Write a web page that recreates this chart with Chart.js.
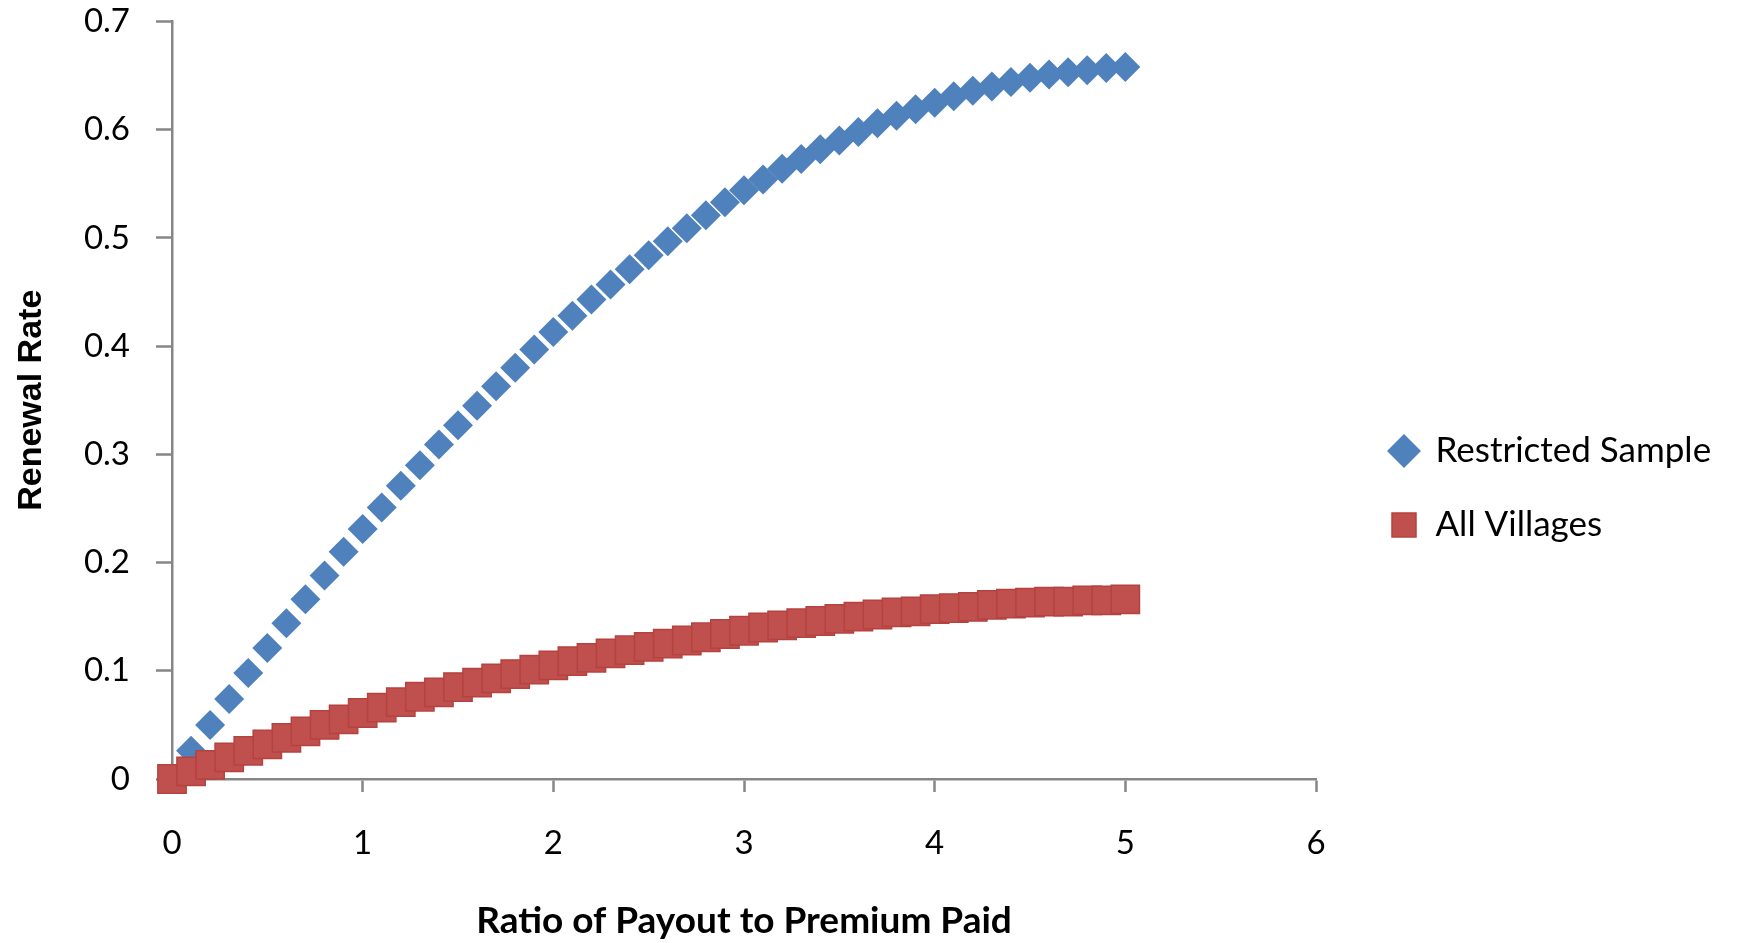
<!DOCTYPE html>
<html><head><meta charset="utf-8">
<script src="https://cdn.jsdelivr.net/npm/chart.js@4"></script>
<style>html,body{margin:0;padding:0;background:#fff}#wrap{width:1739px;height:943px;position:relative}</style>
</head><body><div id="wrap"><canvas id="c"></canvas></div>
<script>
const ratioX = [0,0.1,0.2,0.3,0.4,0.5,0.6,0.7,0.8,0.9,1.0,1.1,1.2,1.3,1.4,1.5,1.6,1.7,1.8,1.9,2.0,2.1,2.2,2.3,2.4,2.5,2.6,2.7,2.8,2.9,3.0,3.1,3.2,3.3,3.4,3.5,3.6,3.7,3.8,3.9,4.0,4.1,4.2,4.3,4.4,4.5,4.6,4.7,4.8,4.9,5.0];
const restrictedSample = [0,0.026,0.050,0.074,0.098,0.121,0.144,0.166,0.188,0.210,0.231,0.251,0.271,0.290,0.309,0.327,0.345,0.363,0.380,0.397,0.413,0.428,0.443,0.457,0.471,0.484,0.497,0.509,0.521,0.533,0.544,0.554,0.564,0.573,0.582,0.590,0.598,0.606,0.613,0.619,0.625,0.631,0.636,0.640,0.644,0.648,0.651,0.653,0.655,0.657,0.658];
const allVillages = [0,0.007,0.013,0.020,0.026,0.032,0.038,0.044,0.050,0.055,0.061,0.066,0.071,0.076,0.080,0.085,0.089,0.093,0.097,0.101,0.105,0.109,0.112,0.116,0.119,0.122,0.125,0.128,0.131,0.134,0.137,0.140,0.142,0.144,0.146,0.148,0.150,0.152,0.154,0.155,0.157,0.158,0.159,0.161,0.162,0.163,0.164,0.164,0.165,0.165,0.166];
const seriesNames = ['Restricted Sample','All Villages'];
const xTickLabels = ['0','1','2','3','4','5','6'];
const yTickLabels = ['0','0.1','0.2','0.3','0.4','0.5','0.6','0.7'];
const xTitle = 'Ratio of Payout to Premium Paid';
const yTitle = 'Renewal Rate';

const W = 1739, H = 943;
const AREA = {left:172, right:1316, top:21, bottom:779};
const axisGrey = '#868686';
const LEG_FONT = 35, LEG_PAD = 74 - LEG_FONT;

const toPts = (ys) => ys.map((y,i) => ({x: ratioX[i], y: y}));

const layoutFix = {
  id: 'layoutFix',
  beforeLayout(chart) {
    const lg = chart.legend;
    if (lg && !lg._patched) {
      const f = lg.fit;
      lg.fit = function () { f.call(this); this.width = W - AREA.right; };
      lg._patched = true;
    }
  },
  afterLayout(chart) {
    const lg = chart.legend;
    if (lg) {
      lg.left = 1390 - LEG_PAD; lg.right = W;
      lg.top = 451 - LEG_FONT / 2 - LEG_PAD; lg.bottom = H;
    }
  }
};

const noPad = (s) => { s.paddingTop = 0; s.paddingBottom = 0; s.paddingLeft = 0; s.paddingRight = 0; };

new Chart(document.getElementById('c'), {
  type: 'scatter',
  data: {
    datasets: [
      { label: seriesNames[0], data: toPts(restrictedSample), pointStyle: 'rectRot', pointRadius: 15,
        backgroundColor: '#4F81BD', borderColor: '#4F81BD', borderWidth: 0, showLine: false, clip: false, order: 1 },
      { label: seriesNames[1], data: toPts(allVillages), pointStyle: 'rect', pointRadius: 20,
        backgroundColor: '#C0504D', borderColor: '#B5423F', borderWidth: 1.5, showLine: false, clip: false, order: 0 }
    ]
  },
  options: {
    responsive: true, maintainAspectRatio: false, animation: false, devicePixelRatio: 1,
    events: [],
    layout: { padding: { top: AREA.top, left: 0, right: 0, bottom: 0 } },
    plugins: {
      tooltip: { enabled: false },
      legend: {
        position: 'right', align: 'start',
        labels: {
          usePointStyle: true, boxWidth: 28, boxHeight: 24, padding: LEG_PAD,
          color: '#000', font: { family: 'Lato', size: LEG_FONT },
          sort: (a, b) => a.datasetIndex - b.datasetIndex
        }
      }
    },
    scales: {
      x: {
        type: 'linear', min: 0, max: 6,
        afterFit: (s) => { s.height = H - AREA.bottom; noPad(s); },
        ticks: { stepSize: 1, padding: 32, color: '#000', font: { family: 'Lato', size: 33 },
                 callback: (v, i) => xTickLabels[i] },
        grid: { drawOnChartArea: false, drawTicks: true, tickLength: 13, tickWidth: 2.5, tickColor: axisGrey, color: axisGrey },
        border: { display: true, color: axisGrey, width: 2.5 },
        title: { display: true, text: xTitle, color: '#000', font: { family: 'Lato', size: 37, weight: 'bold' }, padding: { top: 0, bottom: 0 } }
      },
      y: {
        type: 'linear', min: 0, max: 0.7,
        afterFit: (s) => { s.width = AREA.left; noPad(s); },
        ticks: { stepSize: 0.1, padding: 26, color: '#000', font: { family: 'Lato', size: 33 },
                 callback: (v, i) => yTickLabels[i] },
        grid: { drawOnChartArea: false, drawTicks: true, tickLength: 16, tickWidth: 2.5, tickColor: axisGrey, color: axisGrey },
        border: { display: true, color: axisGrey, width: 2.5 },
        title: { display: true, text: yTitle, color: '#000', font: { family: 'Liberation Sans', size: 34, weight: 'bold' }, padding: { top: 11, bottom: 0 } }
      }
    }
  },
  plugins: [layoutFix]
});
</script>
</body></html>
